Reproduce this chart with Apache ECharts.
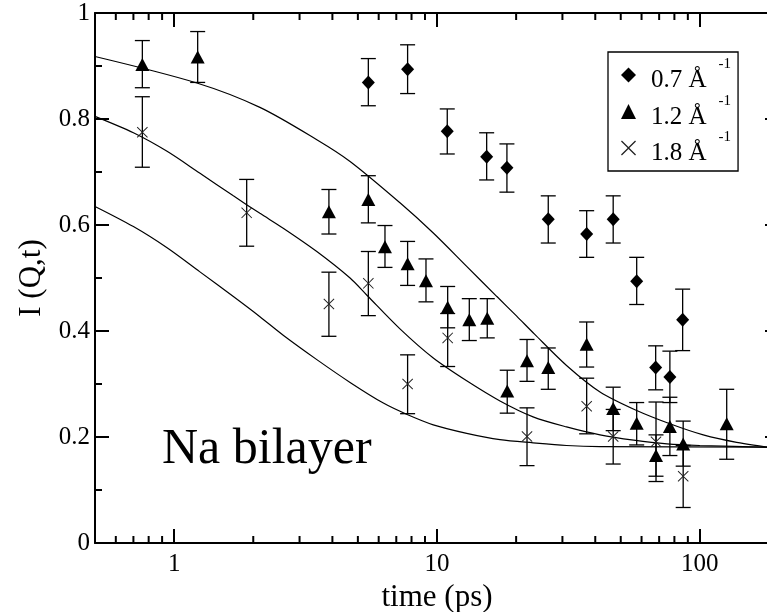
<!DOCTYPE html>
<html><head><meta charset="utf-8">
<script src="https://cdn.jsdelivr.net/npm/echarts@6.0.0/dist/echarts.min.js"></script>
<style>html,body{margin:0;padding:0;overflow:hidden;background:#fff}#c{width:790px;height:612px}</style>
</head><body><div id="c"></div>
<script>
const SERIF = '"Liberation Serif","Times New Roman",Times,serif';

// axis ranges and tick values
const xMin = 0.5, xMax = 200;
const xMajorTicks = [1, 10, 100];
const xMinorTicks = [0.6,0.7,0.8,0.9,2,3,4,5,6,7,8,9,20,30,40,50,60,70,80,90];
const yMin = 0, yMax = 1, yStep = 0.2;

// legend texts
const seriesNames = ['0.7', '1.2', '1.8'];
const legendText = ['0.7 Å', '1.2 Å', '1.8 Å'];
const legendSup = '-1';
const annotation = 'Na bilayer';

// Q = 0.7 Å^-1 (diamonds)
const t07  = [5.48, 7.73, 10.94, 15.45, 18.45, 26.5, 37.1, 46.8, 57.5, 67.9, 76.9, 86.0];
const i07  = [0.869, 0.894, 0.777, 0.729, 0.708, 0.611, 0.583, 0.611, 0.494, 0.331, 0.313, 0.421];
const lo07 = [0.825, 0.848, 0.734, 0.685, 0.662, 0.566, 0.539, 0.566, 0.450, 0.289, 0.265, 0.363];
const hi07 = [0.914, 0.940, 0.819, 0.774, 0.753, 0.655, 0.627, 0.655, 0.539, 0.372, 0.362, 0.479];

// Q = 1.2 Å^-1 (triangles)
const t12  = [0.757, 1.229, 3.88, 5.48, 6.34, 7.73, 9.08, 10.98, 13.27, 15.53, 18.5, 22.0, 26.5, 37.1, 46.8, 57.5, 68.1, 76.9, 86.4, 126.5];
const i12  = [0.903, 0.917, 0.625, 0.648, 0.559, 0.527, 0.495, 0.445, 0.421, 0.424, 0.287, 0.344, 0.331, 0.375, 0.254, 0.226, 0.165, 0.220, 0.187, 0.225];
const lo12 = [0.859, 0.869, 0.583, 0.604, 0.520, 0.486, 0.455, 0.406, 0.382, 0.387, 0.245, 0.305, 0.290, 0.332, 0.212, 0.185, 0.126, 0.165, 0.145, 0.158];
const hi12 = [0.948, 0.965, 0.667, 0.693, 0.599, 0.569, 0.536, 0.484, 0.461, 0.461, 0.326, 0.384, 0.368, 0.417, 0.294, 0.265, 0.204, 0.275, 0.230, 0.290];

// Q = 1.8 Å^-1 (crosses)
const t18  = [0.757, 1.888, 3.88, 5.48, 7.73, 10.98, 22.0, 37.1, 46.8, 68.1, 86.4];
const i18  = [0.775, 0.623, 0.451, 0.490, 0.300, 0.387, 0.201, 0.258, 0.201, 0.191, 0.126];
const lo18 = [0.709, 0.560, 0.390, 0.429, 0.244, 0.333, 0.146, 0.206, 0.149, 0.116, 0.067];
const hi18 = [0.842, 0.686, 0.511, 0.550, 0.355, 0.433, 0.255, 0.311, 0.252, 0.266, 0.184];

// fitted curves
const fitA_t = [0.5, 1.22, 2.12, 3.49, 4.67, 7.23, 9.68, 12.97, 16.9, 20.1, 23.5, 31.1, 41.7, 57.5, 76.9, 103, 138, 200];
const fitA_i = [0.918, 0.868, 0.822, 0.761, 0.720, 0.642, 0.585, 0.522, 0.465, 0.428, 0.394, 0.335, 0.285, 0.250, 0.225, 0.204, 0.190, 0.178];
const fitB_t = [0.5, 0.70, 0.94, 1.25, 1.68, 2.12, 2.60, 3.49, 4.67, 5.40, 7.23, 9.68, 12.97, 17.36, 23.2, 31.1, 41.7, 56, 75, 100, 200];
const fitB_i = [0.805, 0.774, 0.739, 0.698, 0.655, 0.622, 0.594, 0.550, 0.500, 0.468, 0.404, 0.349, 0.306, 0.268, 0.238, 0.219, 0.204, 0.194, 0.187, 0.184, 0.180];
const fitC_t = [0.5, 0.70, 0.94, 1.25, 1.68, 2.12, 2.60, 3.49, 4.67, 6.25, 7.66, 9.68, 12.97, 17.36, 23.2, 31.1, 41.7, 200];
const fitC_i = [0.635, 0.597, 0.557, 0.512, 0.465, 0.427, 0.392, 0.346, 0.303, 0.264, 0.243, 0.223, 0.207, 0.195, 0.189, 0.184, 0.182, 0.181];

const zip2 = (a, b) => a.map((v, k) => [v, b[k]]);
const zip3 = (a, b, c) => a.map((v, k) => [v, b[k], c[k]]);

const CROSS = 'path://M0,0.6L0.6,0L5,4.4L9.4,0L10,0.6L5.6,5L10,9.4L9.4,10L5,5.6L0.6,10L0,9.4L4.4,5Z';

function errRender(params, api) {
  const x = api.value(0), lo = api.value(1), hi = api.value(2);
  const a = api.coord([x, lo]), b = api.coord([x, hi]);
  const w = 7.5, st = { stroke: '#000', lineWidth: 1.3 };
  return { type: 'group', children: [
    { type: 'line', shape: { x1: a[0], y1: a[1], x2: b[0], y2: b[1] }, style: st },
    { type: 'line', shape: { x1: a[0] - w, y1: a[1], x2: a[0] + w, y2: a[1] }, style: st },
    { type: 'line', shape: { x1: b[0] - w, y1: b[1], x2: b[0] + w, y2: b[1] }, style: st }
  ]};
}
function minorRender(params, api) {
  const v = api.value(0);
  const a = api.coord([v, yMin]), b = api.coord([v, yMax]);
  const L = 7, st = { stroke: '#000', lineWidth: 2 };
  return { type: 'group', children: [
    { type: 'line', shape: { x1: a[0], y1: a[1], x2: a[0], y2: a[1] - L }, style: st },
    { type: 'line', shape: { x1: b[0], y1: b[1], x2: b[0], y2: b[1] + L }, style: st }
  ]};
}

const axisLine = { onZero: false, lineStyle: { color: '#000', width: 2 } };
const axisTick = { inside: true, length: 14, lineStyle: { color: '#000', width: 2 } };
const xLabelFmt = v => { const m = xMajorTicks.find(m => Math.abs(v - m) / m < 1e-6); return m ? String(m) : ''; };
const fitStyle = { color: '#000', width: 1.2 };

const chart = echarts.init(document.getElementById('c'), null, { renderer: 'canvas' });
chart.setOption({
  animation: false,
  backgroundColor: '#fff',
  grid: { left: 95, top: 13, width: 684, height: 530, containLabel: false, outerBoundsMode: 'none' },
  xAxis: [
    { type: 'log', logBase: 10, min: xMin, max: xMax, position: 'bottom',
      axisLine, axisTick, splitLine: { show: false },
      axisLabel: { color: '#000', fontFamily: SERIF, fontSize: 25, margin: 9, formatter: xLabelFmt },
      name: 'time (ps)', nameLocation: 'middle', nameGap: 34,
      nameTextStyle: { color: '#000', fontFamily: SERIF, fontSize: 31 } },
    { type: 'log', logBase: 10, min: xMin, max: xMax, position: 'top',
      axisLine, axisTick, splitLine: { show: false }, axisLabel: { show: false } }
  ],
  yAxis: [
    { type: 'value', min: yMin, max: yMax, interval: yStep, position: 'left',
      axisLine, axisTick, splitLine: { show: false },
      minorTick: { show: true, splitNumber: 2, length: 7, lineStyle: { color: '#000', width: 2 } },
      axisLabel: { color: '#000', fontFamily: SERIF, fontSize: 25, margin: 5 },
      name: 'I (Q,t)', nameLocation: 'middle', nameGap: 46, nameRotate: 90,
      nameTextStyle: { color: '#000', fontFamily: SERIF, fontSize: 31 } },
    { type: 'value', min: yMin, max: yMax, interval: yStep, position: 'right',
      axisLine, axisTick, splitLine: { show: false },
      minorTick: { show: true, splitNumber: 2, length: 7, lineStyle: { color: '#000', width: 2 } },
      axisLabel: { show: false } }
  ],
  legend: {
    orient: 'vertical', left: 608, top: 52,
    padding: [5, 7, 5, 13], itemGap: 0.5, itemWidth: 15, itemHeight: 15,
    borderColor: '#000', borderWidth: 1.3, backgroundColor: '#fff',
    data: seriesNames, selectedMode: false,
    formatter: name => '{h| }{t|' + legendText[seriesNames.indexOf(name)] + '}{s|' + legendSup + '}',
    textStyle: { color: '#000', rich: {
      h: { fontSize: 1, lineHeight: 36, width: 0 },
      t: { fontFamily: SERIF, fontSize: 25, lineHeight: 26, color: '#000', verticalAlign: 'bottom', padding: [0, 0, 0, 10] },
      s: { fontFamily: SERIF, fontSize: 15, lineHeight: 14, color: '#000', verticalAlign: 'top', padding: [0, 0, 0, 12] }
    } }
  },
  graphic: [
    { type: 'text', left: 162, top: 425, silent: true,
      style: { text: annotation, fontFamily: SERIF, fontSize: 50, fill: '#000' } }
  ],
  series: [
    { type: 'custom', renderItem: minorRender, data: xMinorTicks.map(v => [v]), silent: true, clip: false, z: 1 },
    { type: 'line', data: zip2(fitA_t, fitA_i), smooth: 0.3, showSymbol: false, lineStyle: fitStyle, silent: true, z: 2 },
    { type: 'line', data: zip2(fitB_t, fitB_i), smooth: 0.3, showSymbol: false, lineStyle: fitStyle, silent: true, z: 2 },
    { type: 'line', data: zip2(fitC_t, fitC_i), smooth: 0.3, showSymbol: false, lineStyle: fitStyle, silent: true, z: 2 },
    { type: 'custom', renderItem: errRender, data: zip3(t07, lo07, hi07), encode: { x: 0, y: [1, 2] }, silent: true, z: 3 },
    { type: 'custom', renderItem: errRender, data: zip3(t12, lo12, hi12), encode: { x: 0, y: [1, 2] }, silent: true, z: 3 },
    { type: 'custom', renderItem: errRender, data: zip3(t18, lo18, hi18), encode: { x: 0, y: [1, 2] }, silent: true, z: 3 },
    { name: seriesNames[0], type: 'scatter', data: zip2(t07, i07), symbol: 'diamond', symbolSize: [13, 14], itemStyle: { color: '#000', opacity: 1 }, z: 5 },
    { name: seriesNames[1], type: 'scatter', data: zip2(t12, i12), symbol: 'triangle', symbolSize: [14, 13], itemStyle: { color: '#000', opacity: 1 }, z: 5 },
    { name: seriesNames[2], type: 'scatter', data: zip2(t18, i18), symbol: CROSS, symbolSize: 11, itemStyle: { color: '#222', opacity: 1 }, z: 5 }
  ]
});
</script></body></html>
